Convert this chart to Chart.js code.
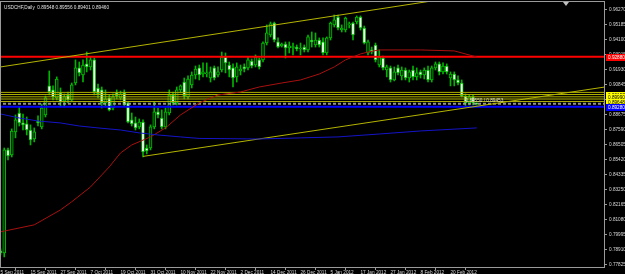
<!DOCTYPE html>
<html>
<head>
<meta charset="utf-8">
<title>USDCHF, Daily</title>
<script src="https://cdn.jsdelivr.net/npm/chart.js@4.4.1/dist/chart.umd.min.js"></script>
<style>
  html, body { margin: 0; padding: 0; background: #000; overflow: hidden; }
  #grafico { display: block; }
</style>
</head>
<body>
<canvas id="grafico" width="625" height="274"></canvas>
<script>
const TITULO = "USDCHF,Daily  0.89548 0.89556 0.89401 0.89460";
const NOTA_OBJETO = "0.89550 / 0.89453";

// eixo de datas: barra onde cada rotulo aparece
const dateLabels = ["5 Sep 2011", "15 Sep 2011", "27 Sep 2011", "7 Oct 2011", "19 Oct 2011", "31 Oct 2011",
  "10 Nov 2011", "22 Nov 2011", "2 Dec 2011", "14 Dec 2011", "26 Dec 2011", "5 Jan 2012",
  "17 Jan 2012", "27 Jan 2012", "8 Feb 2012", "20 Feb 2012"];
const dateLabelBars = [0, 8, 16, 24, 32, 40, 48, 56, 64, 72, 80, 88, 96, 104, 112, 120];

const priceTickLabels = ["0.96270", "0.95185", "0.94100", "0.93015", "0.91930", "0.90845", "0.89760",
  "0.88675", "0.87590", "0.86505", "0.85420", "0.84335", "0.83250", "0.82165", "0.81080",
  "0.79995", "0.78910", "0.77825"];

// velas diarias
const opens = [0.7885, 0.7870, 0.8615, 0.8579, 0.8745, 0.8882, 0.8810, 0.8803, 0.8759, 0.8694,
  0.8824, 0.8781, 0.8868, 0.9078, 0.9049, 0.8991, 0.9027, 0.8969, 0.9012, 0.8976,
  0.9099, 0.9208, 0.9157, 0.9237, 0.9215, 0.9266, 0.9063, 0.9049, 0.8955, 0.8991,
  0.8918, 0.9027, 0.8991, 0.9027, 0.8955, 0.8832, 0.8810, 0.8781, 0.8817, 0.8629,
  0.8629, 0.8781, 0.8890, 0.8846, 0.8781, 0.8882, 0.9012, 0.8955, 0.9049, 0.9106,
  0.8998, 0.9085, 0.9157, 0.9208, 0.9164, 0.9164, 0.9135, 0.9208, 0.9157, 0.9193,
  0.9287, 0.9229, 0.9208, 0.9143, 0.9186, 0.9215, 0.9208, 0.9258, 0.9229, 0.9266,
  0.9266, 0.9388, 0.9446, 0.9533, 0.9396, 0.9367, 0.9381, 0.9352, 0.9356, 0.9359,
  0.9345, 0.9359, 0.9338, 0.9410, 0.9374, 0.9410, 0.9396, 0.9316, 0.9425, 0.9519,
  0.9576, 0.9482, 0.9482, 0.9519, 0.9533, 0.9540, 0.9576, 0.9497, 0.9316, 0.9338,
  0.9374, 0.9229, 0.9280, 0.9193, 0.9208, 0.9121, 0.9208, 0.9150, 0.9193, 0.9135,
  0.9193, 0.9143, 0.9179, 0.9157, 0.9193, 0.9121, 0.9208, 0.9237, 0.9179, 0.9222,
  0.9135, 0.9164, 0.9121, 0.9099, 0.9005, 0.8955, 0.8998, 0.89548];
const highs = [0.7899, 0.8629, 0.8629, 0.8767, 0.8868, 0.8926, 0.8875, 0.8853, 0.8796, 0.8774,
  0.8861, 0.8947, 0.9005, 0.9186, 0.9078, 0.9143, 0.9063, 0.9020, 0.9034, 0.9099,
  0.9266, 0.9251, 0.9266, 0.9323, 0.9287, 0.9280, 0.9092, 0.9070, 0.9049, 0.9012,
  0.9020, 0.9049, 0.9041, 0.9049, 0.8962, 0.8882, 0.8853, 0.8839, 0.8832, 0.8651,
  0.8796, 0.8962, 0.8918, 0.8904, 0.8918, 0.9049, 0.9034, 0.9070, 0.9085, 0.9135,
  0.9150, 0.9179, 0.9222, 0.9229, 0.9244, 0.9244, 0.9215, 0.9222, 0.9215, 0.9323,
  0.9316, 0.9251, 0.9237, 0.9244, 0.9229, 0.9237, 0.9287, 0.9273, 0.9302, 0.9280,
  0.9396, 0.9519, 0.9540, 0.9540, 0.9425, 0.9388, 0.9396, 0.9396, 0.9388, 0.9374,
  0.9388, 0.9374, 0.9446, 0.9468, 0.9461, 0.9425, 0.9425, 0.9432, 0.9540, 0.9591,
  0.9591, 0.9519, 0.9576, 0.9540, 0.9540, 0.9584, 0.9584, 0.9511, 0.9410, 0.9359,
  0.9388, 0.9338, 0.9294, 0.9229, 0.9222, 0.9215, 0.9229, 0.9215, 0.9208, 0.9193,
  0.9222, 0.9208, 0.9193, 0.9208, 0.9222, 0.9222, 0.9251, 0.9251, 0.9244, 0.9237,
  0.9179, 0.9179, 0.9150, 0.9121, 0.9020, 0.9012, 0.9012, 0.89556];
const lows = [0.7856, 0.7841, 0.8543, 0.8564, 0.8702, 0.8788, 0.8759, 0.8723, 0.8651, 0.8673,
  0.8788, 0.8767, 0.8853, 0.9012, 0.8976, 0.8976, 0.8926, 0.8926, 0.8955, 0.8962,
  0.9085, 0.9150, 0.9106, 0.9179, 0.9193, 0.9012, 0.8991, 0.8918, 0.8926, 0.8897,
  0.8904, 0.8984, 0.8976, 0.8933, 0.8810, 0.8788, 0.8759, 0.8767, 0.8564, 0.8586,
  0.8615, 0.8767, 0.8846, 0.8767, 0.8767, 0.8868, 0.8940, 0.8940, 0.9027, 0.8984,
  0.8984, 0.9063, 0.9128, 0.9121, 0.9143, 0.9143, 0.9106, 0.9121, 0.9143, 0.9179,
  0.9172, 0.9143, 0.9070, 0.9106, 0.9157, 0.9179, 0.9193, 0.9208, 0.9215, 0.9200,
  0.9251, 0.9374, 0.9432, 0.9396, 0.9352, 0.9359, 0.9280, 0.9316, 0.9302, 0.9331,
  0.9302, 0.9323, 0.9323, 0.9359, 0.9359, 0.9359, 0.9302, 0.9302, 0.9410, 0.9504,
  0.9482, 0.9468, 0.9468, 0.9497, 0.9410, 0.9526, 0.9482, 0.9381, 0.9302, 0.9309,
  0.9251, 0.9215, 0.9193, 0.9143, 0.9106, 0.9114, 0.9157, 0.9121, 0.9121, 0.9106,
  0.9121, 0.9121, 0.9135, 0.9128, 0.9106, 0.9106, 0.9193, 0.9157, 0.9164, 0.9164,
  0.9078, 0.9078, 0.9085, 0.8998, 0.8926, 0.8940, 0.8940, 0.89401];
const closes = [0.7870, 0.8615, 0.8571, 0.8752, 0.8832, 0.8810, 0.8796, 0.8759, 0.8687, 0.8745,
  0.8810, 0.8918, 0.8991, 0.9034, 0.8998, 0.9128, 0.8962, 0.8998, 0.8976, 0.9085,
  0.9208, 0.9172, 0.9229, 0.9215, 0.9266, 0.9034, 0.9020, 0.8955, 0.8984, 0.8904,
  0.8998, 0.9005, 0.9020, 0.8940, 0.8817, 0.8803, 0.8774, 0.8817, 0.8600, 0.8608,
  0.8781, 0.8890, 0.8868, 0.8781, 0.8890, 0.9012, 0.8955, 0.9049, 0.9078, 0.9005,
  0.9128, 0.9157, 0.9200, 0.9157, 0.9179, 0.9172, 0.9179, 0.9135, 0.9179, 0.9287,
  0.9244, 0.9193, 0.9135, 0.9215, 0.9200, 0.9200, 0.9266, 0.9222, 0.9287, 0.9215,
  0.9388, 0.9461, 0.9526, 0.9410, 0.9359, 0.9381, 0.9352, 0.9367, 0.9363, 0.9345,
  0.9352, 0.9338, 0.9432, 0.9396, 0.9410, 0.9374, 0.9316, 0.9425, 0.9533, 0.9555,
  0.9497, 0.9497, 0.9569, 0.9526, 0.9446, 0.9576, 0.9497, 0.9388, 0.9396, 0.9323,
  0.9266, 0.9287, 0.9208, 0.9215, 0.9121, 0.9179, 0.9172, 0.9193, 0.9135, 0.9179,
  0.9143, 0.9172, 0.9157, 0.9193, 0.9121, 0.9208, 0.9237, 0.9179, 0.9222, 0.9179,
  0.9164, 0.9121, 0.9099, 0.9005, 0.8955, 0.8998, 0.8955, 0.89460];

// medias moveis (lidas em algumas barras)
const slowMaBars = [0, 9, 16, 19, 24, 29, 32, 35, 40, 44, 48, 53, 58, 64, 69, 75, 80, 85, 89, 92, 96, 98, 101, 112, 121, 127];
const slowMaValues = [0.8022, 0.8073, 0.8181, 0.8240, 0.8347, 0.8492, 0.8593, 0.8651, 0.8709, 0.8774,
  0.8868, 0.8955, 0.9012, 0.9034, 0.9070, 0.9099, 0.9121, 0.9164, 0.9215, 0.9266,
  0.9309, 0.9323, 0.9338, 0.9338, 0.9331, 0.9287];
const longMaBars = [0, 5, 10, 16, 21, 26, 32, 37, 42, 48, 53, 69, 80, 90, 101, 112, 127];
const longMaValues = [0.8875, 0.8846, 0.8824, 0.8810, 0.8788, 0.8774, 0.8759, 0.8738, 0.8723, 0.8709,
  0.8698, 0.8694, 0.8702, 0.8709, 0.8730, 0.8752, 0.8774];

// linhas de tendencia do canal
const upperTrendBars = [0, 120];
const upperTrendValues = [0.9215, 0.9713];
const lowerTrendBars = [38, 170];
const lowerTrendValues = [0.8568, 0.9106];

// niveis horizontais
const redLevel = 0.92880;
const yellowLevels = [0.90310, 0.90157, 0.89990, 0.89830, 0.89648];
const yellowLabelLevels = [0.90157, 0.89990, 0.89648];
const greyLevels = [0.89520, 0.89460];
const blueLevel = 0.89280;

const FONTE = "4.7px 'Liberation Sans', Arial, sans-serif";

function serie(xs, ys) {
  return xs.map((x, k) => ({ x, y: ys[k] }));
}

function nivel(valor) {
  return [{ x: -10, y: valor }, { x: 200, y: valor }];
}

function linha(dados, cor, extra) {
  return Object.assign({
    type: "line",
    data: dados,
    borderColor: cor,
    borderWidth: 1,
    pointRadius: 0,
    tension: 0,
    order: 1
  }, extra || {});
}

function desenharCaixaPreco(ctx, area, yScale, valor, fundo, corTexto) {
  const y = Math.round(yScale.getPixelForValue(valor));
  ctx.fillStyle = fundo;
  ctx.fillRect(area.right + 1, y - 3, 20, 7);
  ctx.fillStyle = corTexto;
  ctx.textAlign = "left";
  ctx.textBaseline = "middle";
  ctx.fillText(valor.toFixed(5), area.right + 3, y + 0.5);
}

const decoracao = {
  id: "decoracao",
  afterDraw(chart) {
    const ctx = chart.ctx;
    const area = chart.chartArea;
    const yScale = chart.scales.y;
    const xScale = chart.scales.x;

    ctx.save();
    ctx.strokeStyle = "#9a9a9a";
    ctx.lineWidth = 1;
    ctx.strokeRect(area.left - 0.5, area.top - 0.5, area.right - area.left, area.bottom - area.top);

    ctx.font = FONTE;
    desenharCaixaPreco(ctx, area, yScale, redLevel, "#ff0000", "#ffffff");
    yellowLabelLevels.forEach(v => desenharCaixaPreco(ctx, area, yScale, v, "#ffff00", "#000000"));
    desenharCaixaPreco(ctx, area, yScale, blueLevel, "#0000ff", "#ffffff");

    ctx.fillStyle = "#e0e0e0";
    ctx.textAlign = "left";
    ctx.textBaseline = "middle";
    ctx.fillText(TITULO, 4, 8);

    ctx.fillStyle = "#d8d8d8";
    ctx.fillText(NOTA_OBJETO, xScale.getPixelForValue(124), yScale.getPixelForValue(0.8972));

    // marcador do deslocamento do grafico
    ctx.fillStyle = "#c0c0c0";
    ctx.beginPath();
    ctx.moveTo(563, area.top);
    ctx.lineTo(569, area.top);
    ctx.lineTo(566, area.top + 4);
    ctx.closePath();
    ctx.fill();
    ctx.restore();
  }
};

function criarGrafico() {
  const barras = opens.map((o, i) => i);
  const pavios = barras.map(i => ({ x: i, y: [lows[i], highs[i]] }));
  const corpos = barras.map(i => ({ x: i, y: [opens[i], closes[i]] }));
  const coresCorpo = barras.map(i => (closes[i] < opens[i] ? "#ffffff" : "#002400"));

  const datasets = [
    {
      type: "bar",
      data: pavios,
      backgroundColor: "#00b400",
      barThickness: 1,
      grouped: false,
      order: 3
    },
    {
      type: "bar",
      data: corpos,
      backgroundColor: coresCorpo,
      borderColor: "#00c000",
      borderWidth: 1,
      borderSkipped: false,
      barThickness: 3,
      minBarLength: 1,
      grouped: false,
      order: 2
    },
    linha(serie(longMaBars, longMaValues), "#1414c8"),
    linha(serie(slowMaBars, slowMaValues), "#a81010"),
    linha(serie(upperTrendBars, upperTrendValues), "#b4b400"),
    linha(serie(lowerTrendBars, lowerTrendValues), "#b4b400"),
    ...yellowLevels.map(v => linha(nivel(v), "#b0b000")),
    ...greyLevels.map(v => linha(nivel(v), "#a8a8a8", { borderDash: [3, 2] })),
    linha(nivel(blueLevel), "#0000ff", { borderWidth: 2 }),
    linha(nivel(redLevel), "#ff0000", { borderWidth: 2 })
  ];

  new Chart(document.getElementById("grafico"), {
    type: "bar",
    data: { datasets },
    options: {
      responsive: false,
      animation: false,
      devicePixelRatio: 1,
      layout: { padding: { top: 2, left: 1, right: 0, bottom: 0 } },
      plugins: {
        legend: { display: false },
        tooltip: { enabled: false }
      },
      scales: {
        x: {
          type: "linear",
          position: "bottom",
          min: 0.1333,
          max: 161.2,
          offset: false,
          border: { display: false },
          grid: { drawOnChartArea: false, drawTicks: true, tickLength: 2, color: "#9a9a9a" },
          ticks: {
            autoSkip: false,
            maxRotation: 0,
            align: "start",
            padding: 0,
            color: "#d8d8d8",
            font: { family: "'Liberation Sans', Arial, sans-serif", size: 4.7 },
            callback: valor => dateLabels[dateLabelBars.indexOf(valor)]
          },
          afterBuildTicks: escala => {
            escala.ticks = dateLabelBars.map(value => ({ value }));
          },
          afterFit: escala => {
            escala.height = 6;
            escala.paddingLeft = 0;
            escala.paddingRight = 0;
          }
        },
        y: {
          type: "linear",
          position: "right",
          min: 0.77608,
          max: 0.96848,
          border: { display: false },
          grid: { drawOnChartArea: false, drawTicks: true, tickLength: 2, color: "#9a9a9a" },
          ticks: {
            autoSkip: false,
            padding: 2,
            color: "#d8d8d8",
            font: { family: "'Liberation Sans', Arial, sans-serif", size: 4.7 },
            callback: (valor, indice) => priceTickLabels[indice]
          },
          afterBuildTicks: escala => {
            escala.ticks = priceTickLabels.map(t => ({ value: parseFloat(t) }));
          },
          afterFit: escala => {
            escala.width = 20;
            escala.paddingTop = 0;
            escala.paddingBottom = 0;
          }
        }
      }
    },
    plugins: [decoracao]
  });
}

criarGrafico();
</script>
</body>
</html>
